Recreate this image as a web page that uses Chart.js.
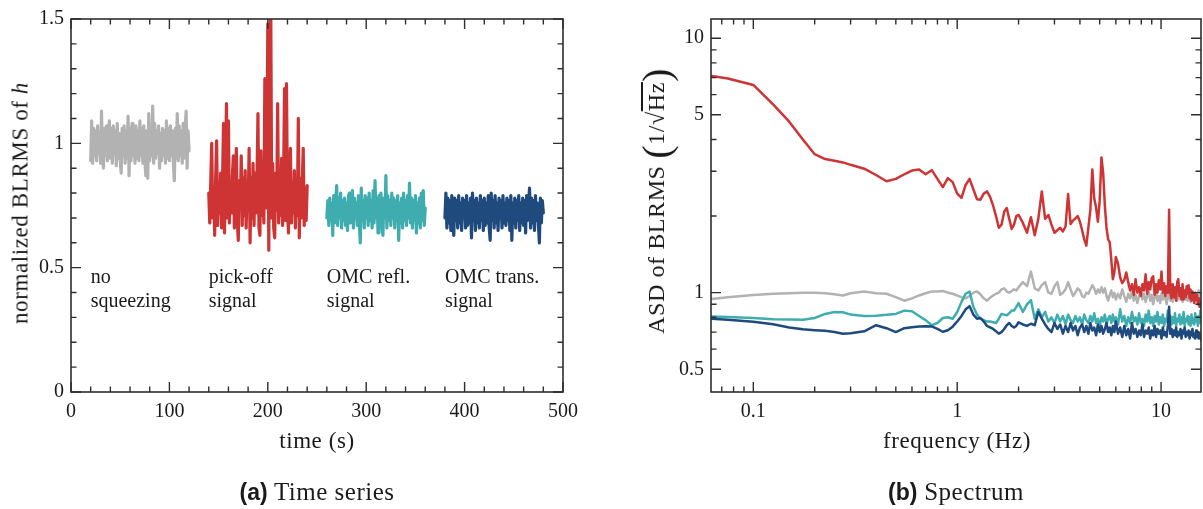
<!DOCTYPE html>
<html><head><meta charset="utf-8">
<script src="https://cdn.jsdelivr.net/npm/chart.js@4.4.1/dist/chart.umd.min.js"></script>
<style>
html,body{margin:0;padding:0;background:#fff;}
#wrap{position:relative;width:1203px;height:509px;overflow:hidden;font-family:"Liberation Serif",serif;color:#1a1a1a;}
canvas{position:absolute;top:0;}
.t{position:absolute;white-space:nowrap;transform:translate(-50%,-50%);font-size:23px;letter-spacing:0.6px;line-height:1;}
.rot{transform:translate(-50%,-50%) rotate(-90deg);}
.big{font-size:24px;}
.cap{font-size:25px;letter-spacing:0.5px;}
.cap b{font-family:"Liberation Sans",Arial,sans-serif;font-weight:bold;font-size:23px;letter-spacing:0;}
.bp{font-size:40px;vertical-align:-6px;font-weight:normal;}
.ov{text-decoration:overline;}
</style></head>
<body><div id="wrap">
<canvas id="ts" width="600" height="509" style="left:0"></canvas>
<canvas id="sp" width="603" height="509" style="left:600px"></canvas>
<div class="t" style="left:317px;top:440px">time (s)</div>
<div class="t" style="left:957px;top:440px">frequency (Hz)</div>
<div class="t rot" style="left:20px;top:203px">normalized BLRMS of <i>h</i></div>
<div class="t rot big" style="left:657px;top:201px">ASD of BLRMS <span class="bp">(</span>1/√<span class="ov">Hz</span><span class="bp">)</span></div>
<div class="t cap" style="left:317px;top:491px"><b>(a)</b> Time series</div>
<div class="t cap" style="left:956px;top:491px"><b>(b)</b> Spectrum</div>
</div>
<script>
// ---------- (a) time series ----------
const TS_START = [20, 140, 260, 380];   // s, start of each segment
const TS_STEP = 1;                      // s between samples
const grayTS = [0.93,1.09,0.92,1.06,0.95,1.05,0.93,1.07,0.96,1.04,
 0.92,1.13,0.94,0.90,1.06,0.95,1.07,0.93,1.05,1.09,
 0.94,1.06,0.92,1.07,0.96,1.05,0.91,1.08,0.94,1.04,
 0.93,0.88,1.06,0.95,1.07,0.92,1.05,0.94,1.11,0.87,
 1.06,0.93,1.08,0.95,1.04,0.92,1.07,0.94,1.05,0.93,
 1.09,0.95,1.06,0.92,1.07,0.94,0.87,1.05,0.86,1.12,
 0.93,1.06,0.95,1.15,0.92,1.08,0.94,1.05,0.96,1.07,
 0.90,1.04,0.93,1.06,0.95,1.05,0.92,1.09,0.94,1.06,
 0.93,1.07,0.95,1.05,0.92,0.85,1.06,0.94,1.12,0.93,
 1.07,0.95,1.05,0.92,1.08,0.94,1.06,1.13,0.90,1.05,
 0.97];
const redTS = [0.80,0.68,0.84,1.00,0.70,0.82,0.63,0.86,1.01,0.67,
 0.83,0.72,0.88,0.66,0.85,1.08,0.64,0.90,1.16,0.70,
 1.09,0.68,0.84,0.72,0.87,0.95,0.66,0.83,0.98,0.69,
 0.61,0.85,0.74,0.95,0.67,0.86,0.71,0.89,0.66,0.84,
 0.73,0.98,0.60,0.86,0.70,0.92,0.67,0.88,0.72,0.85,
 1.12,0.66,0.63,0.97,0.71,0.87,0.68,1.26,0.74,0.90,
 1.48,0.57,1.42,1.56,0.70,0.92,0.66,0.62,0.88,0.73,
 1.16,0.68,0.86,0.71,0.94,0.67,0.84,1.22,0.69,1.24,
 0.74,0.64,0.87,0.98,0.68,0.83,0.72,0.89,0.66,0.85,
 0.71,1.10,0.62,0.86,0.70,0.84,0.98,0.67,0.82,0.69,
 0.83];
const tealTS = [0.70,0.77,0.67,0.78,0.69,0.76,0.63,0.79,0.68,0.77,
 0.83,0.67,0.78,0.70,0.80,0.66,0.77,0.69,0.78,0.67,
 0.76,0.65,0.79,0.80,0.68,0.77,0.81,0.66,0.78,0.70,
 0.76,0.67,0.79,0.68,0.60,0.82,0.69,0.77,0.66,0.79,
 0.70,0.78,0.67,0.80,0.69,0.77,0.66,0.81,0.68,0.85,
 0.70,0.78,0.64,0.79,0.68,0.80,0.67,0.63,0.78,0.70,
 0.87,0.66,0.79,0.69,0.77,0.67,0.80,0.70,0.78,0.66,
 0.77,0.69,0.79,0.61,0.76,0.68,0.78,0.66,0.80,0.69,
 0.77,0.67,0.79,0.70,0.84,0.68,0.78,0.66,0.77,0.69,
 0.79,0.64,0.76,0.68,0.78,0.66,0.80,0.69,0.81,0.67,
 0.74];
const navyTS = [0.70,0.80,0.66,0.78,0.68,0.77,0.65,0.79,0.67,0.63,
 0.78,0.69,0.77,0.66,0.79,0.68,0.76,0.65,0.78,0.70,
 0.77,0.66,0.79,0.67,0.76,0.68,0.78,0.62,0.80,0.69,
 0.77,0.65,0.78,0.68,0.76,0.66,0.79,0.69,0.77,0.65,
 0.78,0.67,0.76,0.68,0.79,0.66,0.61,0.80,0.69,0.77,
 0.66,0.79,0.68,0.76,0.65,0.78,0.70,0.77,0.66,0.79,
 0.68,0.76,0.67,0.78,0.69,0.77,0.65,0.79,0.61,0.76,
 0.68,0.78,0.66,0.77,0.69,0.79,0.65,0.76,0.68,0.78,
 0.67,0.77,0.64,0.79,0.69,0.76,0.82,0.66,0.78,0.68,
 0.77,0.65,0.79,0.69,0.76,0.67,0.60,0.78,0.68,0.77,
 0.72];
const TS_NOTES = [["no","squeezing"],["pick-off","signal"],["OMC refl.","signal"],["OMC trans.","signal"]];
const tsXTicks = [0,100,200,300,400,500];
const tsXTickLabels = ["0","100","200","300","400","500"];
const tsXMinor = [20,40,60,80,120,140,160,180,220,240,260,280,320,340,360,380,420,440,460,480];
const tsYTicks = [0,0.5,1,1.5];
const tsYTickLabels = ["0","0.5","1","1.5"];
const tsYMinor = [0.1,0.2,0.3,0.4,0.6,0.7,0.8,0.9,1.1,1.2,1.3,1.4];

// ---------- (b) spectrum ----------
const freqHz = [0.0625,0.075,0.1,0.125,0.15,0.175,0.2,0.225,0.25,0.275,0.3,0.35,0.4,0.45,0.5,0.55,0.6,0.65,0.7,0.75,0.8,0.85,0.9,0.95,1.0,
 1.05,1.1,1.15,1.2,1.25,1.3,1.35,1.4,1.45,1.5,1.55,1.6,1.65,1.7,1.75,1.8,1.85,1.9,1.95,2.0,
 2.1,2.2,2.3,2.4,2.5,2.6,2.7,2.8,2.9,3.0,3.1,3.2,3.3,3.4,3.5,3.6,3.7,3.8,3.9,4.0,
 4.1,4.2,4.3,4.4,4.5,4.6,4.7,4.8,4.9,5.0,5.1,5.2,5.3,5.4,5.5,5.6,5.7,5.8,5.9,6.0,
 6.15,6.3,6.45,6.6,6.75,6.9,7.05,7.2,7.35,7.5,7.65,7.8,7.95,8.1,8.25,8.4,8.55,8.7,8.85,9.0,
 9.15,9.3,9.45,9.6,9.75,9.9,10.05,10.2,10.35,10.5,10.65,10.8,10.95,11.1,11.25,11.4,11.55,11.7,11.85,12.0,
 12.15,12.3,12.45,12.6,12.75,12.9,13.05,13.2,13.35,13.5,13.65,13.8,13.95,14.1,14.25,14.4,14.55,14.7,14.85,15.0,
 15.15,15.3,15.45,15.6,15.75,15.9];
const redASD = [7.1,6.95,6.55,5.5,4.7,4.0,3.5,3.35,3.3,3.25,3.18,3.07,2.9,2.74,2.8,2.92,3.02,3.05,2.92,3.03,2.8,2.6,2.82,2.72,2.45,
 2.36,2.65,2.8,2.55,2.33,2.32,2.45,2.5,2.38,2.2,2.0,1.8,1.85,2.08,2.15,1.95,1.78,1.85,2.0,2.02,
 1.88,1.72,1.98,1.68,1.95,2.5,1.95,2.02,1.85,1.72,1.76,1.8,1.74,1.82,2.44,1.86,1.92,1.96,2.0,1.9,
 1.76,1.62,1.53,1.8,2.12,3.05,2.35,2.16,1.9,2.3,3.4,2.95,2.2,1.8,1.62,1.58,1.35,1.13,1.2,1.38,
 1.3,1.15,1.09,1.12,1.2,1.1,1.02,1.08,0.98,1.13,1.0,1.05,0.97,1.08,1.02,1.18,0.99,1.1,1.03,1.14,
 1.16,0.98,1.08,1.0,1.12,1.03,1.21,1.0,1.09,0.97,1.06,1.0,2.12,1.0,0.95,1.08,0.96,1.05,0.93,1.1,
 1.13,0.97,1.04,0.94,1.08,0.94,1.02,0.96,1.06,0.99,1.07,0.95,1.03,0.93,1.01,0.96,0.91,1.0,0.94,0.98,
 0.9,0.95,0.88,0.92,0.87,0.88];
const grayASD = [0.945,0.96,0.98,0.99,0.995,1.0,1.0,0.995,0.985,0.975,0.995,1.01,0.995,0.99,0.96,0.93,0.95,0.975,0.995,1.01,1.01,1.015,1.0,0.99,0.975,
 0.96,0.95,0.97,1.0,1.01,0.985,0.95,0.93,0.955,0.975,0.99,1.0,1.03,1.04,1.01,1.0,1.015,1.03,1.02,1.05,
 1.1,1.06,1.21,1.04,1.02,1.07,1.1,1.0,0.99,1.06,1.1,0.98,1.0,1.03,1.1,1.03,0.97,1.0,1.04,1.02,
 0.97,0.96,1.0,0.99,1.03,1.07,1.04,0.99,1.03,1.0,1.05,1.0,1.04,0.97,0.93,0.98,1.02,0.96,1.0,0.94,
 0.99,0.95,1.03,0.97,0.92,0.99,0.95,1.01,0.93,0.98,0.91,0.97,1.02,0.94,0.99,0.92,0.97,1.01,0.93,0.98,
 0.9,0.96,1.0,0.93,0.97,0.91,0.99,0.94,1.02,0.95,0.9,0.97,1.0,0.93,0.98,0.92,1.0,0.95,0.99,0.93,
 0.97,1.01,0.94,0.99,0.92,0.97,1.0,0.94,0.98,0.93,1.01,0.96,0.92,0.98,0.94,1.0,0.95,0.98,0.93,0.99,
 0.95,1.02,0.96,0.99,0.94,0.97];
const tealASD = [0.806,0.803,0.795,0.787,0.784,0.783,0.795,0.825,0.84,0.838,0.82,0.81,0.812,0.818,0.825,0.85,0.845,0.81,0.78,0.745,0.76,0.795,0.8,0.79,0.84,
 0.92,0.99,1.01,0.88,0.82,0.79,0.78,0.77,0.77,0.765,0.76,0.79,0.825,0.82,0.815,0.83,0.85,0.85,0.88,0.91,
 0.84,0.9,0.935,0.79,0.86,0.8,0.84,0.77,0.8,0.76,0.82,0.77,0.81,0.75,0.82,0.78,0.76,0.81,0.77,0.8,
 0.75,0.82,0.78,0.76,0.81,0.77,0.83,0.76,0.79,0.74,0.8,0.77,0.82,0.75,0.79,0.81,0.76,0.82,0.77,0.8,
 0.75,0.86,0.77,0.81,0.74,0.8,0.76,0.84,0.77,0.8,0.75,0.83,0.76,0.79,0.74,0.82,0.77,0.85,0.76,0.8,
 0.74,0.81,0.77,0.84,0.75,0.8,0.76,0.82,0.74,0.79,0.77,0.85,0.78,0.81,0.75,0.8,0.76,0.83,0.74,0.79,
 0.77,0.82,0.75,0.8,0.76,0.84,0.74,0.79,0.77,0.81,0.75,0.8,0.74,0.82,0.76,0.79,0.75,0.83,0.77,0.8,
 0.74,0.81,0.76,0.85,0.77,0.78];
const navyASD = [0.79,0.782,0.768,0.752,0.73,0.718,0.712,0.708,0.7,0.69,0.692,0.705,0.745,0.725,0.7,0.725,0.732,0.737,0.738,0.737,0.72,0.702,0.712,0.735,0.77,
 0.81,0.86,0.885,0.82,0.79,0.795,0.77,0.74,0.73,0.72,0.705,0.69,0.7,0.72,0.745,0.76,0.74,0.73,0.74,0.765,
 0.75,0.74,0.755,0.745,0.84,0.79,0.75,0.72,0.7,0.76,0.72,0.75,0.69,0.74,0.7,0.76,0.71,0.74,0.68,0.73,
 0.75,0.7,0.74,0.69,0.76,0.71,0.73,0.68,0.75,0.7,0.74,0.69,0.72,0.76,0.7,0.73,0.68,0.74,0.7,0.77,
 0.69,0.73,0.67,0.74,0.68,0.72,0.66,0.76,0.69,0.72,0.67,0.71,0.68,0.75,0.67,0.71,0.69,0.73,0.66,0.71,
 0.68,0.74,0.67,0.72,0.69,0.71,0.66,0.73,0.68,0.7,0.67,0.74,0.88,0.69,0.72,0.67,0.71,0.68,0.73,0.67,
 0.7,0.68,0.72,0.66,0.71,0.69,0.73,0.67,0.7,0.68,0.71,0.66,0.7,0.68,0.72,0.67,0.69,0.66,0.71,0.67,
 0.7,0.66,0.69,0.67,0.65,0.68];
const spXTicks = [0.1,1,10];
const spXTickLabels = ["0.1","1","10"];
const spXMinor = [0.07,0.08,0.09,0.2,0.3,0.4,0.5,0.6,0.7,0.8,0.9,2,3,4,5,6,7,8,9];
const spYTicks = [0.5,1,5,10];
const spYTickLabels = ["0.5","1","5","10"];
const spYMinor = [0.6,0.7,0.8,0.9,2,3,4,6,7,8,9];

// ---------- styling ----------
const C_GRAY = '#b2b2b2', C_RED = '#cf3434', C_TEAL = '#3fadb0', C_NAVY = '#1f4a7e';
const AXIS = '#2e2e2e', TEXT = '#1a1a1a';
const TICK_FONT = {family: "'Liberation Serif', serif", size: 20};
const NOTE_Y = [0.44, 0.341];
const TS_LW = 3.2, SP_LW = 2.5;

function toPoints(xs, ys) { return ys.map((v, i) => ({x: xs[i], y: v})); }
function segment(start, vals) { return vals.map((v, i) => ({x: start + i * TS_STEP, y: v})); }

function decor(spec) {
  return {
    id: 'decor',
    afterDatasetsDraw(chart) {
      const {ctx, chartArea: a} = chart;
      const xs = chart.scales.x, ys = chart.scales.y;
      ctx.save();
      ctx.strokeStyle = AXIS; ctx.lineWidth = 1.4;
      ctx.beginPath();
      const vt = (vals, len) => vals.forEach(v => {
        const p = xs.getPixelForValue(v);
        ctx.moveTo(p, a.bottom); ctx.lineTo(p, a.bottom - len);
        ctx.moveTo(p, a.top); ctx.lineTo(p, a.top + len);
      });
      const ht = (vals, len) => vals.forEach(v => {
        const p = ys.getPixelForValue(v);
        ctx.moveTo(a.left, p); ctx.lineTo(a.left + len, p);
        ctx.moveTo(a.right, p); ctx.lineTo(a.right - len, p);
      });
      vt(spec.xMajor, 10); vt(spec.xMinor, 5.5);
      ht(spec.yMajor, 10); ht(spec.yMinor, 5.5);
      ctx.stroke();
      ctx.lineWidth = 1.6;
      ctx.strokeRect(a.left, a.top, a.right - a.left, a.bottom - a.top);
      if (spec.notes) {
        ctx.fillStyle = TEXT;
        ctx.font = "20px 'Liberation Serif', serif";
        ctx.textAlign = 'left'; ctx.textBaseline = 'alphabetic';
        spec.notes.forEach((lines, i) => {
          const px = xs.getPixelForValue(TS_START[i]);
          lines.forEach((txt, j) => ctx.fillText(txt, px, ys.getPixelForValue(NOTE_Y[j])));
        });
      }
      ctx.restore();
    }
  };
}

function axisCfg(type, min, max, ticks, labels, fitProp, fitVal, pad) {
  return {
    type, min, max,
    grid: {display: false, drawTicks: false},
    border: {display: false},
    afterBuildTicks(s) { s.ticks = ticks.map(v => ({value: v})); },
    afterFit(s) { s[fitProp] = fitVal; },
    ticks: {autoSkip: false, maxRotation: 0, padding: pad, color: TEXT, font: TICK_FONT,
            callback: (v, i) => labels[i]}
  };
}

const common = {
  responsive: false, animation: false, events: [],
  plugins: {legend: {display: false}, tooltip: {enabled: false}},
  elements: {point: {radius: 0}, line: {tension: 0, borderJoinStyle: 'round'}}
};

function ds(data, color, lw, order) {
  return {data, borderColor: color, borderWidth: lw, order, clip: 0, pointRadius: 0,
          borderJoinStyle: 'round', borderCapStyle: 'round', tension: 0};
}

new Chart(document.getElementById('ts'), {
  type: 'line',
  data: {datasets: [
    ds(segment(TS_START[0], grayTS), C_GRAY, TS_LW, 0),
    ds(segment(TS_START[1], redTS), C_RED, TS_LW, 0),
    ds(segment(TS_START[2], tealTS), C_TEAL, TS_LW, 0),
    ds(segment(TS_START[3], navyTS), C_NAVY, TS_LW, 0)
  ]},
  options: Object.assign({}, common, {
    layout: {padding: {left: 0, right: 37, top: 14, bottom: 0}},
    scales: {
      x: axisCfg('linear', 0, 500, tsXTicks, tsXTickLabels, 'height', 117, 8),
      y: axisCfg('linear', 0, 1.5, tsYTicks, tsYTickLabels, 'width', 71, 7)
    }
  }),
  plugins: [decor({xMajor: tsXTicks, xMinor: tsXMinor, yMajor: tsYTicks, yMinor: tsYMinor, notes: TS_NOTES})]
});

new Chart(document.getElementById('sp'), {
  type: 'line',
  data: {datasets: [
    ds(toPoints(freqHz, grayASD), C_GRAY, SP_LW, 4),
    ds(toPoints(freqHz, redASD), C_RED, SP_LW, 3),
    ds(toPoints(freqHz, tealASD), C_TEAL, SP_LW, 2),
    ds(toPoints(freqHz, navyASD), C_NAVY, SP_LW, 1)
  ]},
  options: Object.assign({}, common, {
    layout: {padding: {left: 0, right: 2, top: 14, bottom: 0}},
    scales: {
      x: axisCfg('logarithmic', 0.062, 15.7, spXTicks, spXTickLabels, 'height', 117, 8),
      y: axisCfg('logarithmic', 0.407, 11.9, spYTicks, spYTickLabels, 'width', 111, 7)
    }
  }),
  plugins: [decor({xMajor: spXTicks, xMinor: spXMinor, yMajor: spYTicks, yMinor: spYMinor})]
});
</script>
</body></html>
